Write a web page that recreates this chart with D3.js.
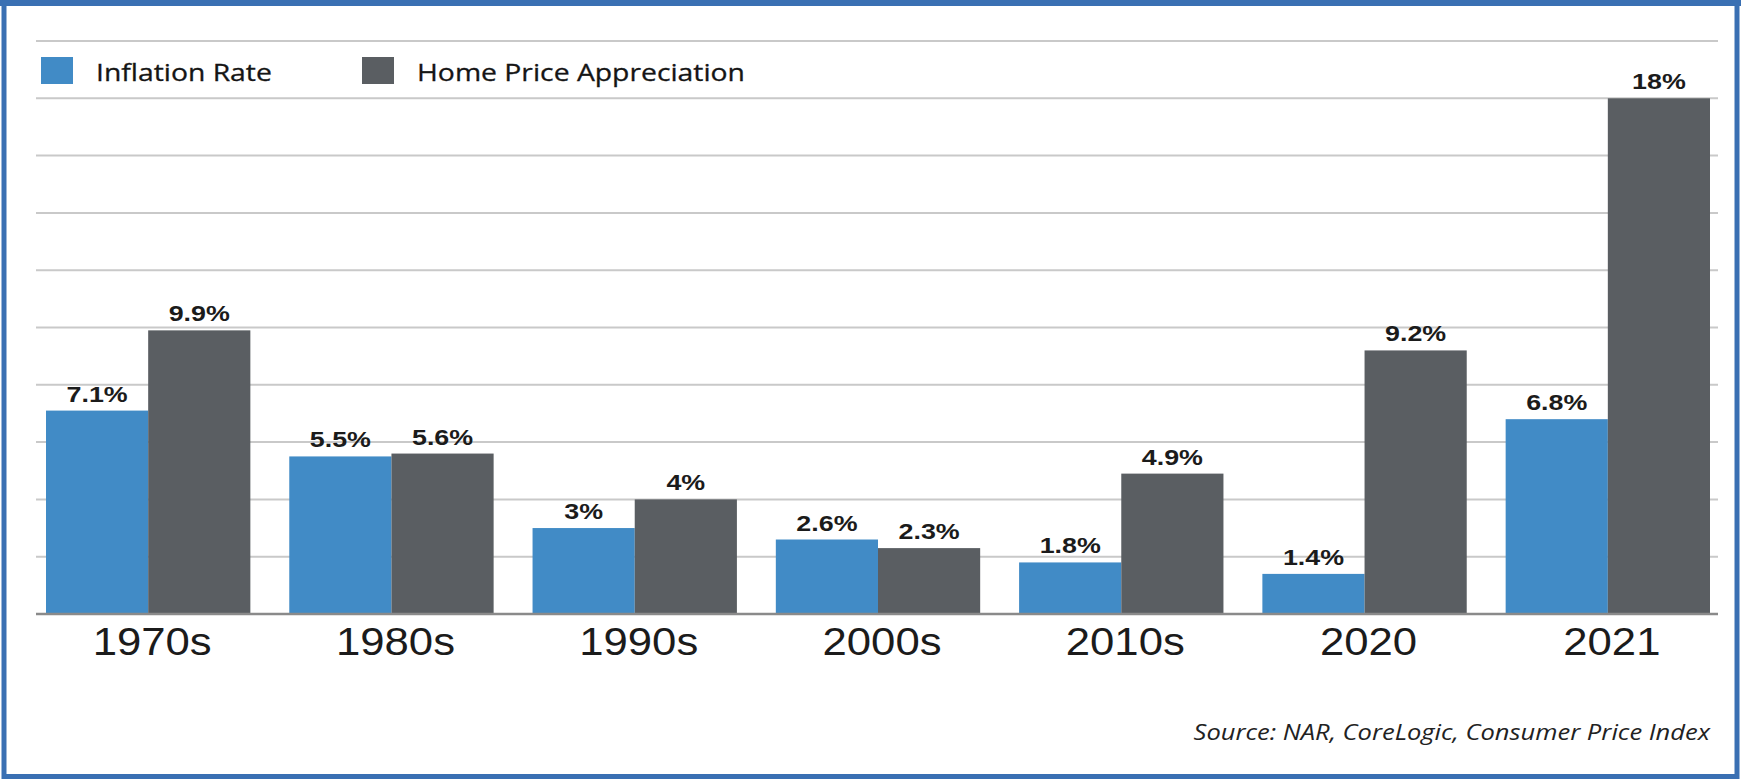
<!DOCTYPE html>
<html>

<head>
    <title>Inflation vs Home Price Appreciation</title>
    <style>
        body {
            margin: 0;
            background: white;
        }

        .grid line {
            stroke: #c9c9c9;
            stroke-width: 2px;
        }

        .val {
            font-family: "Liberation Sans", Arial, sans-serif;
            font-weight: bold;
            font-size: 22px;
            fill: #1b1b1b;
        }

        .cat {
            font-family: "Liberation Sans", Arial, sans-serif;
            font-size: 38px;
            fill: #1b1b1b;
        }

        .legend text {
            font-family: "Open Sans", "Noto Sans", sans-serif;
            font-size: 24px;
            fill: #151515;
        }
    </style>
</head>

<body>

    <svg width="1741" height="779"></svg>

    <script src="https://d3js.org/d3.v7.min.js"></script>

    <script>
        const categories = ["1970s", "1980s", "1990s", "2000s", "2010s", "2020", "2021"];
        const inflationRate = [7.1, 5.5, 3, 2.6, 1.8, 1.4, 6.8];
        const homePrice = [9.9, 5.6, 4, 2.3, 4.9, 9.2, 18];
        const seriesNames = ["Inflation Rate", "Home Price Appreciation"];
        const gridTicks = [2, 4, 6, 8, 10, 12, 14, 16, 18, 20];
        const sourceText = "Source: NAR, CoreLogic, Consumer Price Index";

        const colors = ["#418bc6", "#5a5e62"];

        let svg = d3.select("svg");

        // outer frame
        svg.append("rect")
            .attr("x", 4).attr("y", 2.5)
            .attr("width", 1733).attr("height", 774)
            .attr("fill", "none")
            .attr("stroke", "#3a70b3")
            .attr("stroke-width", 5);
        svg.append("rect")
            .attr("x", 0).attr("y", 0)
            .attr("width", 1741).attr("height", 6)
            .attr("fill", "#3a70b3");

        const x = d3.scaleBand()
            .domain(categories)
            .range([46, 1710])
            .paddingInner(0.16)
            .paddingOuter(0);

        const x1 = d3.scaleBand()
            .domain([0, 1])
            .range([0, x.bandwidth()]);

        const y = d3.scaleLinear()
            .domain([0, 20])
            .range([614, 41]);

        // gridlines
        svg.append("g")
            .attr("class", "grid")
            .selectAll("line")
            .data(gridTicks)
            .enter().append("line")
            .attr("x1", 36)
            .attr("x2", 1718)
            .attr("y1", d => y(d))
            .attr("y2", d => y(d));

        const groups = svg.append("g")
            .selectAll("g")
            .data(categories)
            .enter().append("g")
            .attr("transform", d => `translate(${x(d)},0)`);

        const rows = categories.map((c, i) => [inflationRate[i], homePrice[i]]);

        groups.selectAll("rect")
            .data((d, i) => rows[i])
            .enter().append("rect")
            .attr("x", (d, j) => x1(j))
            .attr("width", x1.bandwidth())
            .attr("y", d => y(d))
            .attr("height", d => y(0) - y(d))
            .attr("fill", (d, j) => colors[j]);

        groups.selectAll(".val")
            .data((d, i) => rows[i])
            .enter().append("text")
            .attr("class", "val")
            .attr("text-anchor", "middle")
            .attr("transform", (d, j) => `translate(${x1(j) + x1.bandwidth() / 2},${y(d) - 9}) scale(1.22,1)`)
            .text(d => d + "%");

        // baseline
        svg.append("line")
            .attr("x1", 36).attr("x2", 1718)
            .attr("y1", y(0)).attr("y2", y(0))
            .attr("stroke", "#8a8a8a")
            .attr("stroke-width", 2.5);

        groups.append("text")
            .attr("class", "cat")
            .attr("text-anchor", "middle")
            .attr("transform", `translate(${x.bandwidth() / 2 + 4},655) scale(1.15,1)`)
            .text(d => d);

        // legend
        const legendX = [41, 362];
        const legend = svg.append("g")
            .attr("class", "legend")
            .selectAll("g")
            .data(seriesNames)
            .enter().append("g")
            .attr("transform", (d, i) => `translate(${legendX[i]},57)`);

        legend.append("rect")
            .attr("width", 32)
            .attr("height", 27)
            .attr("fill", (d, i) => colors[i]);

        legend.append("text")
            .attr("transform", "translate(55,24) scale(1.18,1)")
            .attr("stroke", "#151515")
            .attr("stroke-width", 0.3)
            .text(d => d);

        svg.append("text")
            .attr("transform", "translate(1710,740) scale(1.16,1)")
            .attr("text-anchor", "end")
            .style("font-family", "'Open Sans', 'Noto Sans', sans-serif")
            .style("font-style", "italic")
            .style("font-size", "22px")
            .style("fill", "#222")
            .text(sourceText);
    </script>
</body>

</html>
